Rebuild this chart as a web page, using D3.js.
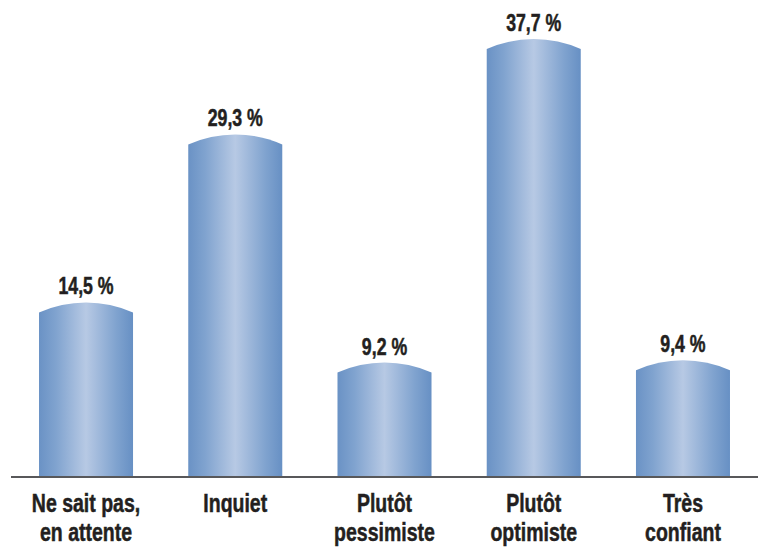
<!DOCTYPE html>
<html>
<head>
<meta charset="utf-8">
<script src="https://cdn.jsdelivr.net/npm/d3@7"></script>
<style>
  html, body { margin: 0; padding: 0; background: #fff; }
  svg { display: block; }
  text { font-family: "Liberation Sans", Arial, sans-serif; font-weight: bold; fill: #231f20; stroke: #231f20; stroke-width: 0.5; }
</style>
</head>
<body>
<svg id="chart" width="763" height="547"></svg>
<script>
// Survey answers and their shares (%)
const categories = [
  ["Ne sait pas,", "en attente"],
  ["Inquiet"],
  ["Plutôt", "pessimiste"],
  ["Plutôt", "optimiste"],
  ["Très", "confiant"]
];
const values = [14.5, 29.3, 9.2, 37.7, 9.4];
const valueLabels = ["14,5 %", "29,3 %", "9,2 %", "37,7 %", "9,4 %"];

const W = 763, H = 547;
const baseY = 477;
const archH = 10;

const svg = d3.select("#chart");

const x = d3.scaleBand()
  .domain(d3.range(values.length))
  .range([12, 757])
  .paddingInner(0.37)
  .paddingOuter(0.181);

const y = d3.scaleLinear().domain([0, 40]).range([baseY, baseY - 454]);

// Horizontal shading to give the bars a cylindrical look
const defs = svg.append("defs");
const grad = defs.append("linearGradient")
  .attr("id", "barGrad")
  .attr("x1", "0%").attr("x2", "100%").attr("y1", "0%").attr("y2", "0%");
[
  [0, "#6a92c5"], [0.18, "#80a3cf"], [0.5, "#b7c9e4"], [0.82, "#80a3cf"], [1, "#6790c4"]
].forEach(([o, c]) => grad.append("stop").attr("offset", o).attr("stop-color", c));

function barPath(i) {
  const x0 = x(i), x1 = x(i) + x.bandwidth();
  const ys = y(values[i]);
  const half = x.bandwidth() / 2;
  const r = (half * half + archH * archH) / (2 * archH);
  return `M${x0},${baseY} L${x0},${ys} A${r},${r} 0 0 1 ${x1},${ys} L${x1},${baseY} Z`;
}

svg.selectAll("path.bar")
  .data(values)
  .join("path")
  .attr("class", "bar")
  .attr("d", (d, i) => barPath(i))
  .attr("fill", "url(#barGrad)");

// Baseline
svg.append("line")
  .attr("x1", 11).attr("x2", 758)
  .attr("y1", baseY).attr("y2", baseY)
  .attr("stroke", "#58585a")
  .attr("stroke-width", 2.2);

const cx = i => x(i) + x.bandwidth() / 2;

// Value labels above the arches (squeezed horizontally for a condensed face)
svg.selectAll("text.val")
  .data(values)
  .join("text")
  .attr("class", "val")
  .attr("transform", (d, i) => `translate(${cx(i)},${y(d) - archH - 8}) scale(0.77,1)`)
  .attr("text-anchor", "middle")
  .attr("font-size", 23)
  .text((d, i) => valueLabels[i]);

// Category labels
const cat = svg.selectAll("text.cat")
  .data(categories)
  .join("text")
  .attr("class", "cat")
  .attr("transform", (d, i) => `translate(${cx(i)},511.5) scale(0.75,1)`)
  .attr("text-anchor", "middle")
  .attr("font-size", 26);
cat.selectAll("tspan")
  .data(d => d)
  .join("tspan")
  .attr("x", 0)
  .attr("y", (d, j) => j * 29.5)
  .text(d => d);
</script>
</body>
</html>
